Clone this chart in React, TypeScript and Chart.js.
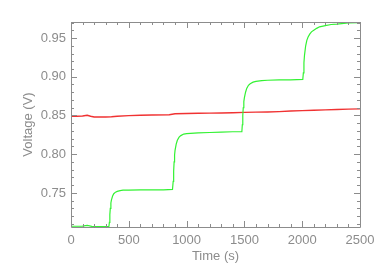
import React, { useEffect, useRef } from "react";
import { Chart, registerables } from "chart.js";

Chart.register(...registerables);

const X_MIN = 0;
const X_MAX = 2500;
const Y_MIN = 0.706;
const Y_MAX = 0.9707;

const xMajorTicks = [0, 500, 1000, 1500, 2000, 2500];
const xMinorTicks = [100, 200, 300, 400, 600, 700, 800, 900, 1100, 1200, 1300, 1400, 1600, 1700, 1800, 1900, 2100, 2200, 2300, 2400];
const yMajorTicks = [0.75, 0.8, 0.85, 0.9, 0.95];
const yMinorTicks = [0.71, 0.72, 0.73, 0.74, 0.76, 0.77, 0.78, 0.79, 0.81, 0.82, 0.83, 0.84, 0.86, 0.87, 0.88, 0.89, 0.91, 0.92, 0.93, 0.94, 0.96, 0.97];

const greenTimes = [0, 50, 100, 140, 180, 250, 300, 328, 332, 336, 340, 345, 350, 360, 370, 385, 400, 425, 450, 500, 600, 700, 800, 878, 884, 888, 892, 896, 900, 910, 920, 935, 950, 975, 1000, 1100, 1200, 1300, 1400, 1478, 1482, 1486, 1490, 1495, 1500, 1510, 1520, 1535, 1550, 1575, 1600, 1650, 1700, 1800, 1900, 2005, 2010, 2015, 2020, 2030, 2040, 2050, 2065, 2080, 2100, 2125, 2150, 2200, 2250, 2300, 2400, 2500];
const greenVolts = [0.707, 0.707, 0.7072, 0.708, 0.7068, 0.7065, 0.7066, 0.7066, 0.712, 0.722, 0.73, 0.737, 0.741, 0.746, 0.749, 0.751, 0.752, 0.753, 0.7535, 0.7535, 0.754, 0.754, 0.754, 0.7545, 0.765, 0.778, 0.79, 0.799, 0.805, 0.813, 0.818, 0.822, 0.824, 0.826, 0.8265, 0.8275, 0.828, 0.8285, 0.829, 0.829, 0.838, 0.85, 0.86, 0.868, 0.873, 0.88, 0.885, 0.889, 0.891, 0.893, 0.894, 0.895, 0.8955, 0.896, 0.896, 0.8965, 0.905, 0.918, 0.928, 0.94, 0.947, 0.951, 0.955, 0.958, 0.96, 0.9625, 0.9645, 0.966, 0.9675, 0.968, 0.9695, 0.97];

const redTimes = [0, 50, 100, 140, 170, 200, 250, 300, 350, 400, 500, 600, 700, 850, 900, 1000, 1100, 1200, 1300, 1400, 1500, 1600, 1700, 1800, 1900, 2000, 2100, 2200, 2300, 2400, 2500];
const redVolts = [0.849, 0.849, 0.8493, 0.8503, 0.849, 0.8481, 0.848, 0.848, 0.8484, 0.849, 0.8498, 0.8502, 0.8506, 0.851, 0.8522, 0.8525, 0.8528, 0.853, 0.8532, 0.8536, 0.854, 0.8543, 0.8545, 0.855, 0.8557, 0.8563, 0.8568, 0.8572, 0.8577, 0.8582, 0.8585];

const GRAY = "#8c8c8c";
const FONT = "'Liberation Sans', Arial, sans-serif";

const frameTicks = {
  id: "frameTicks",
  afterDatasetsDraw(chart: any) {
    const { ctx, chartArea } = chart;
    const xs = chart.scales.x;
    const ys = chart.scales.y;
    const { left, right, top, bottom } = chartArea;
    ctx.save();
    ctx.strokeStyle = GRAY;
    ctx.lineWidth = 1;
    ctx.beginPath();
    ctx.rect(Math.round(left) + 0.5, Math.round(top) + 0.5, Math.round(right - left), Math.round(bottom - top));
    ctx.stroke();
    ctx.beginPath();
    const drawX = (vals: number[], len: number) => {
      vals.forEach((v) => {
        const px = Math.round(xs.getPixelForValue(v)) + 0.5;
        ctx.moveTo(px, bottom);
        ctx.lineTo(px, bottom - len);
        ctx.moveTo(px, top);
        ctx.lineTo(px, top + len);
      });
    };
    const drawY = (vals: number[], len: number) => {
      vals.forEach((v) => {
        const py = Math.round(ys.getPixelForValue(v)) + 0.5;
        ctx.moveTo(left, py);
        ctx.lineTo(left + len, py);
        ctx.moveTo(right, py);
        ctx.lineTo(right - len, py);
      });
    };
    drawX(xMajorTicks, 6);
    drawX(xMinorTicks, 3);
    drawY(yMajorTicks, 6);
    drawY(yMinorTicks, 3);
    ctx.stroke();
    ctx.restore();
  },
};

export default function App() {
  const ref = useRef<HTMLCanvasElement>(null);
  useEffect(() => {
    if (!ref.current) return;
    const chart = new Chart(ref.current, {
      type: "line",
      data: {
        datasets: [
          {
            label: "green",
            data: greenTimes.map((t, i) => ({ x: t, y: greenVolts[i] })),
            borderColor: "#33f233",
            borderWidth: 1.2,
            pointRadius: 0,
            tension: 0,
          },
          {
            label: "red",
            data: redTimes.map((t, i) => ({ x: t, y: redVolts[i] })),
            borderColor: "#f03232",
            borderWidth: 1.4,
            pointRadius: 0,
            tension: 0,
          },
        ],
      },
      options: {
        responsive: false,
        animation: false,
        layout: { padding: { left: 0, right: 22, top: 22, bottom: 0 } },
        plugins: { legend: { display: false }, tooltip: { enabled: false } },
        scales: {
          x: {
            type: "linear",
            min: X_MIN,
            max: X_MAX,
            afterBuildTicks: (s: any) => {
              s.ticks = xMajorTicks.map((v) => ({ value: v }));
            },
            afterFit: (s: any) => {
              s.height = 46;
            },
            grid: { display: false, drawTicks: false },
            border: { display: false },
            ticks: {
              color: GRAY,
              font: { family: FONT, size: 13 },
              padding: 6,
              maxRotation: 0,
              autoSkip: false,
              callback: (v: any) => String(v),
            },
            title: {
              display: true,
              text: "Time (s)",
              color: GRAY,
              font: { family: FONT, size: 13 },
              padding: { top: 9, bottom: 9 },
            },
          },
          y: {
            type: "linear",
            min: Y_MIN,
            max: Y_MAX,
            afterBuildTicks: (s: any) => {
              s.ticks = yMajorTicks.map((v) => ({ value: v }));
            },
            afterFit: (s: any) => {
              s.width = 71;
            },
            grid: { display: false, drawTicks: false },
            border: { display: false },
            ticks: {
              color: GRAY,
              font: { family: FONT, size: 13 },
              padding: 5,
              autoSkip: false,
              callback: (v: any) => Number(v).toFixed(2),
            },
            title: {
              display: true,
              text: "Voltage (V)",
              color: GRAY,
              font: { family: FONT, size: 13 },
              padding: { top: 21, bottom: 21 },
            },
          },
        },
      },
      plugins: [frameTicks],
    });
    return () => chart.destroy();
  }, []);
  return (
    <div style={{ position: "absolute", left: 0, top: 0, width: 382, height: 273, background: "#fff" }}>
      <canvas ref={ref} width={382} height={273} style={{ display: "block" }} />
    </div>
  );
}
